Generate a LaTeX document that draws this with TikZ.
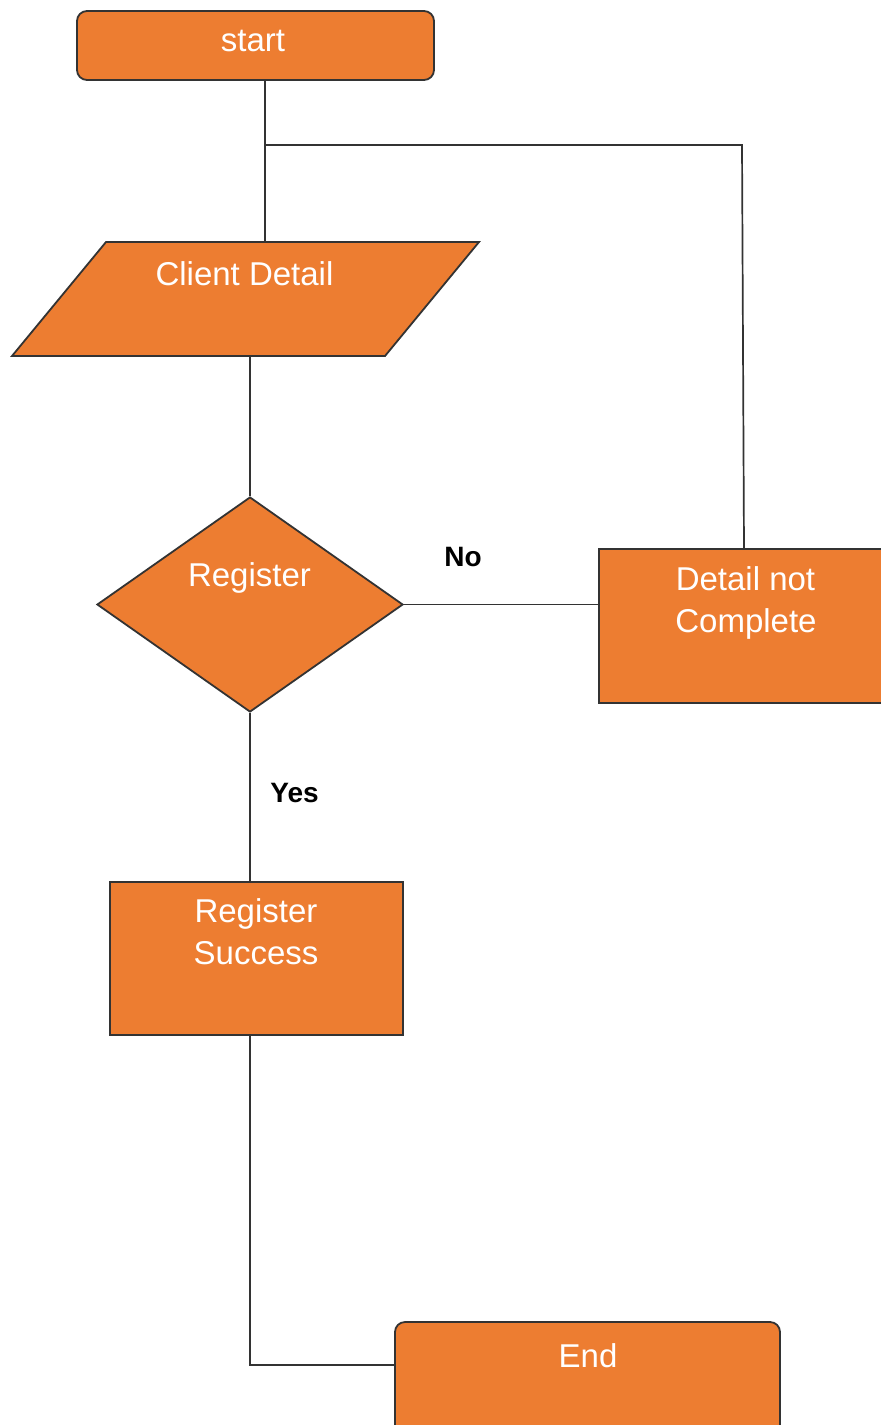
\documentclass[tikz,border=0pt]{standalone}
\usepackage{fontspec}
\setmainfont{Liberation Sans}
\usetikzlibrary{shapes.geometric}
\definecolor{boxfill}{HTML}{ED7D31}
\definecolor{edge}{HTML}{333333}
\definecolor{wire}{HTML}{333333}
\tikzset{
  shapebox/.style={draw=edge, line width=1.8pt, fill=boxfill, inner sep=0pt},
  wirestyle/.style={draw=wire, line width=1.7pt},
  lbl/.style={text=white, font=\fontsize{33}{40}\selectfont, anchor=base, inner sep=0pt},
  bl/.style={text=black, font=\bfseries\fontsize{28}{34}\selectfont, anchor=base, inner sep=0pt}
}
\begin{document}
\begin{tikzpicture}[x=1pt,y=-1pt]
\useasboundingbox (0,0) rectangle (881,1425);
\clip (0,0) rectangle (881,1425);
% shapes
\node[shapebox, rounded corners=10pt, minimum width=357pt, minimum height=69pt] (start) at (255.5,45.5) {};
\node[draw=none, inner sep=0pt, minimum width=373pt, minimum height=114pt] (cd) at (245.5,299) {};
\filldraw[shapebox] (106,242) -- (479,242) -- (385,356) -- (12,356) -- cycle;
\node[shapebox, diamond, minimum width=306pt, minimum height=215pt] (reg) at (250,604.5) {};
\node[shapebox, minimum width=290pt, minimum height=154pt] (dnc) at (744,626) {};
\node[shapebox, minimum width=293pt, minimum height=153pt] (rs) at (256.5,958.5) {};
\node[shapebox, rounded corners=10pt, minimum width=385pt, minimum height=130pt] (end) at (587.5,1387) {};
% texts
\node[lbl] (tstart) at (253,51) {start};
\node[lbl] (tcd) at (244.5,285) {Client Detail};
\node[lbl] (treg) at (249.5,586) {Register};
\node[lbl] (tdnc1) at (745.5,590) {Detail not};
\node[lbl] (tdnc2) at (746,632) {Complete};
\node[lbl] (trs1) at (256,922) {Register};
\node[lbl] (trs2) at (256,964) {Success};
\node[lbl] (tend) at (588,1367) {End};
\node[bl] (tno) at (463,566) {No};
\node[bl] (tyes) at (294.5,802) {Yes};
% connectors
\coordinate (j1) at (265,145);
\coordinate (j2) at (742,145);
\coordinate (j3) at (744,145);
\coordinate (c1) at (250,0);
\coordinate (j4) at (250,1365);
\draw[wirestyle] (start.south -| j1) -- (cd.north -| j1);
\draw[wirestyle] (j1) -- (j2) -- (dnc.north -| j3);
\draw[wirestyle] (cd.south -| c1) -- (reg.north);
\draw[wirestyle] (reg.east) -- (dnc.west |- reg.east);
\draw[wirestyle] (reg.south) -- (rs.north -| c1);
\draw[wirestyle] (rs.south -| c1) -- (j4) -- (end.west |- j4);
\end{tikzpicture}
\end{document}
